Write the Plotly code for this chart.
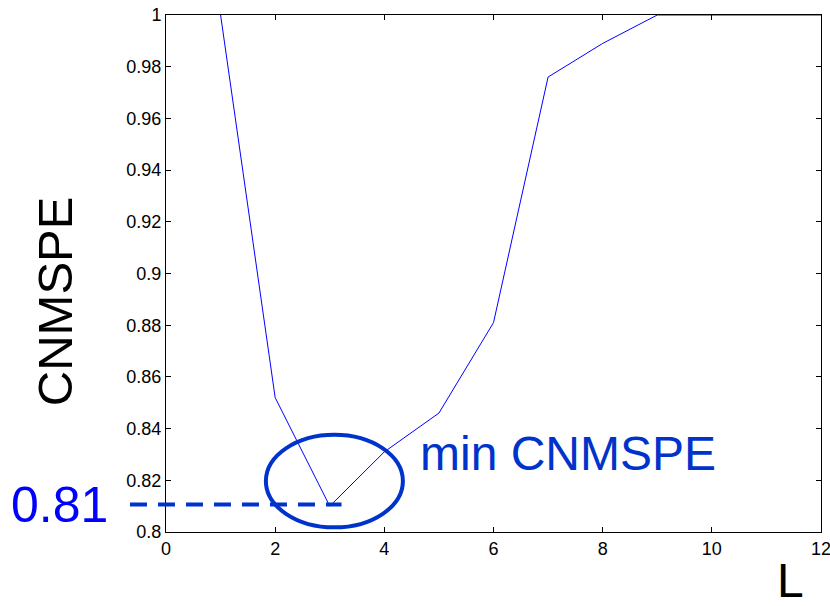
import plotly.graph_objects as go

L_values = [1, 2, 3, 4, 5, 6, 7, 8, 9, 10, 11, 12]
cnmspe = [1.0, 0.852, 0.810, 0.831, 0.846, 0.881, 0.976, 0.989, 1.0, 1.0, 1.0, 1.0]
y_ticks = [0.8, 0.82, 0.84, 0.86, 0.88, 0.9, 0.92, 0.94, 0.96, 0.98, 1.0]
y_tick_labels = ["0.8", "0.82", "0.84", "0.86", "0.88", "0.9", "0.92", "0.94", "0.96", "0.98", "1"]
x_ticks = [0, 2, 4, 6, 8, 10, 12]
x_last_tick_label = "12"
min_value_label = "0.81"

FONT = "Liberation Sans, Arial, sans-serif"
ANNOT_BLUE = "#0033CC"

fig = go.Figure()
fig.add_trace(go.Scatter(x=L_values, y=cnmspe, mode="lines",
                         line=dict(color="#0000FF", width=1), showlegend=False))

axis_common = dict(showgrid=False, zeroline=False, showline=True, linecolor="black",
                   linewidth=1, mirror="ticks", ticks="inside", ticklen=5,
                   tickcolor="black", tickwidth=1, automargin=False,
                   tickfont=dict(family=FONT, size=18, color="black"))

fig.update_xaxes(range=[0, 12], tickvals=x_ticks, **axis_common)
fig.update_yaxes(range=[0.8, 1.0], tickvals=y_ticks, ticktext=y_tick_labels, **axis_common)

# last x tick label (partly beyond the right page edge, as in the original)
fig.add_annotation(text=x_last_tick_label, xref="x", yref="paper", x=x_ticks[-1], y=0,
                   yshift=-17, xanchor="center", yanchor="middle", showarrow=False,
                   font=dict(family=FONT, size=18, color="black"))

# ellipse around the minimum
fig.add_shape(type="circle", xref="x", yref="y", x0=1.83, x1=4.34, y0=0.8018, y1=0.8376,
              line=dict(color=ANNOT_BLUE, width=4))
# dashed marker line at the minimum
fig.add_shape(type="line", xref="paper", yref="paper", x0=-0.055, x1=0.268,
              y0=0.053, y1=0.053,
              line=dict(color=ANNOT_BLUE, width=4, dash="17px,11px"))

fig.add_annotation(text=min_value_label, xref="paper", yref="paper", x=-0.162, y=0.053,
                   xanchor="center", yanchor="middle", showarrow=False,
                   font=dict(family=FONT, size=50, color="#0000FF"))
fig.add_annotation(text="min CNMSPE", xref="paper", yref="paper", x=0.6145, y=0.1514,
                   xanchor="center", yanchor="middle", showarrow=False,
                   font=dict(family=FONT, size=48, color=ANNOT_BLUE))
fig.add_annotation(text="CNMSPE", xref="paper", yref="paper", x=-0.169, y=0.447,
                   xanchor="center", yanchor="middle", showarrow=False, textangle=-90,
                   font=dict(family=FONT, size=49, color="black"))
fig.add_annotation(text="L", xref="paper", yref="paper", x=0.9527, y=-0.094,
                   xanchor="center", yanchor="middle", showarrow=False,
                   font=dict(family=FONT, size=48, color="black"))

fig.update_layout(width=830, height=606, plot_bgcolor="white", paper_bgcolor="white",
                  margin=dict(l=166, r=9, t=15, b=74), showlegend=False)

fig.write_html("out.html")
